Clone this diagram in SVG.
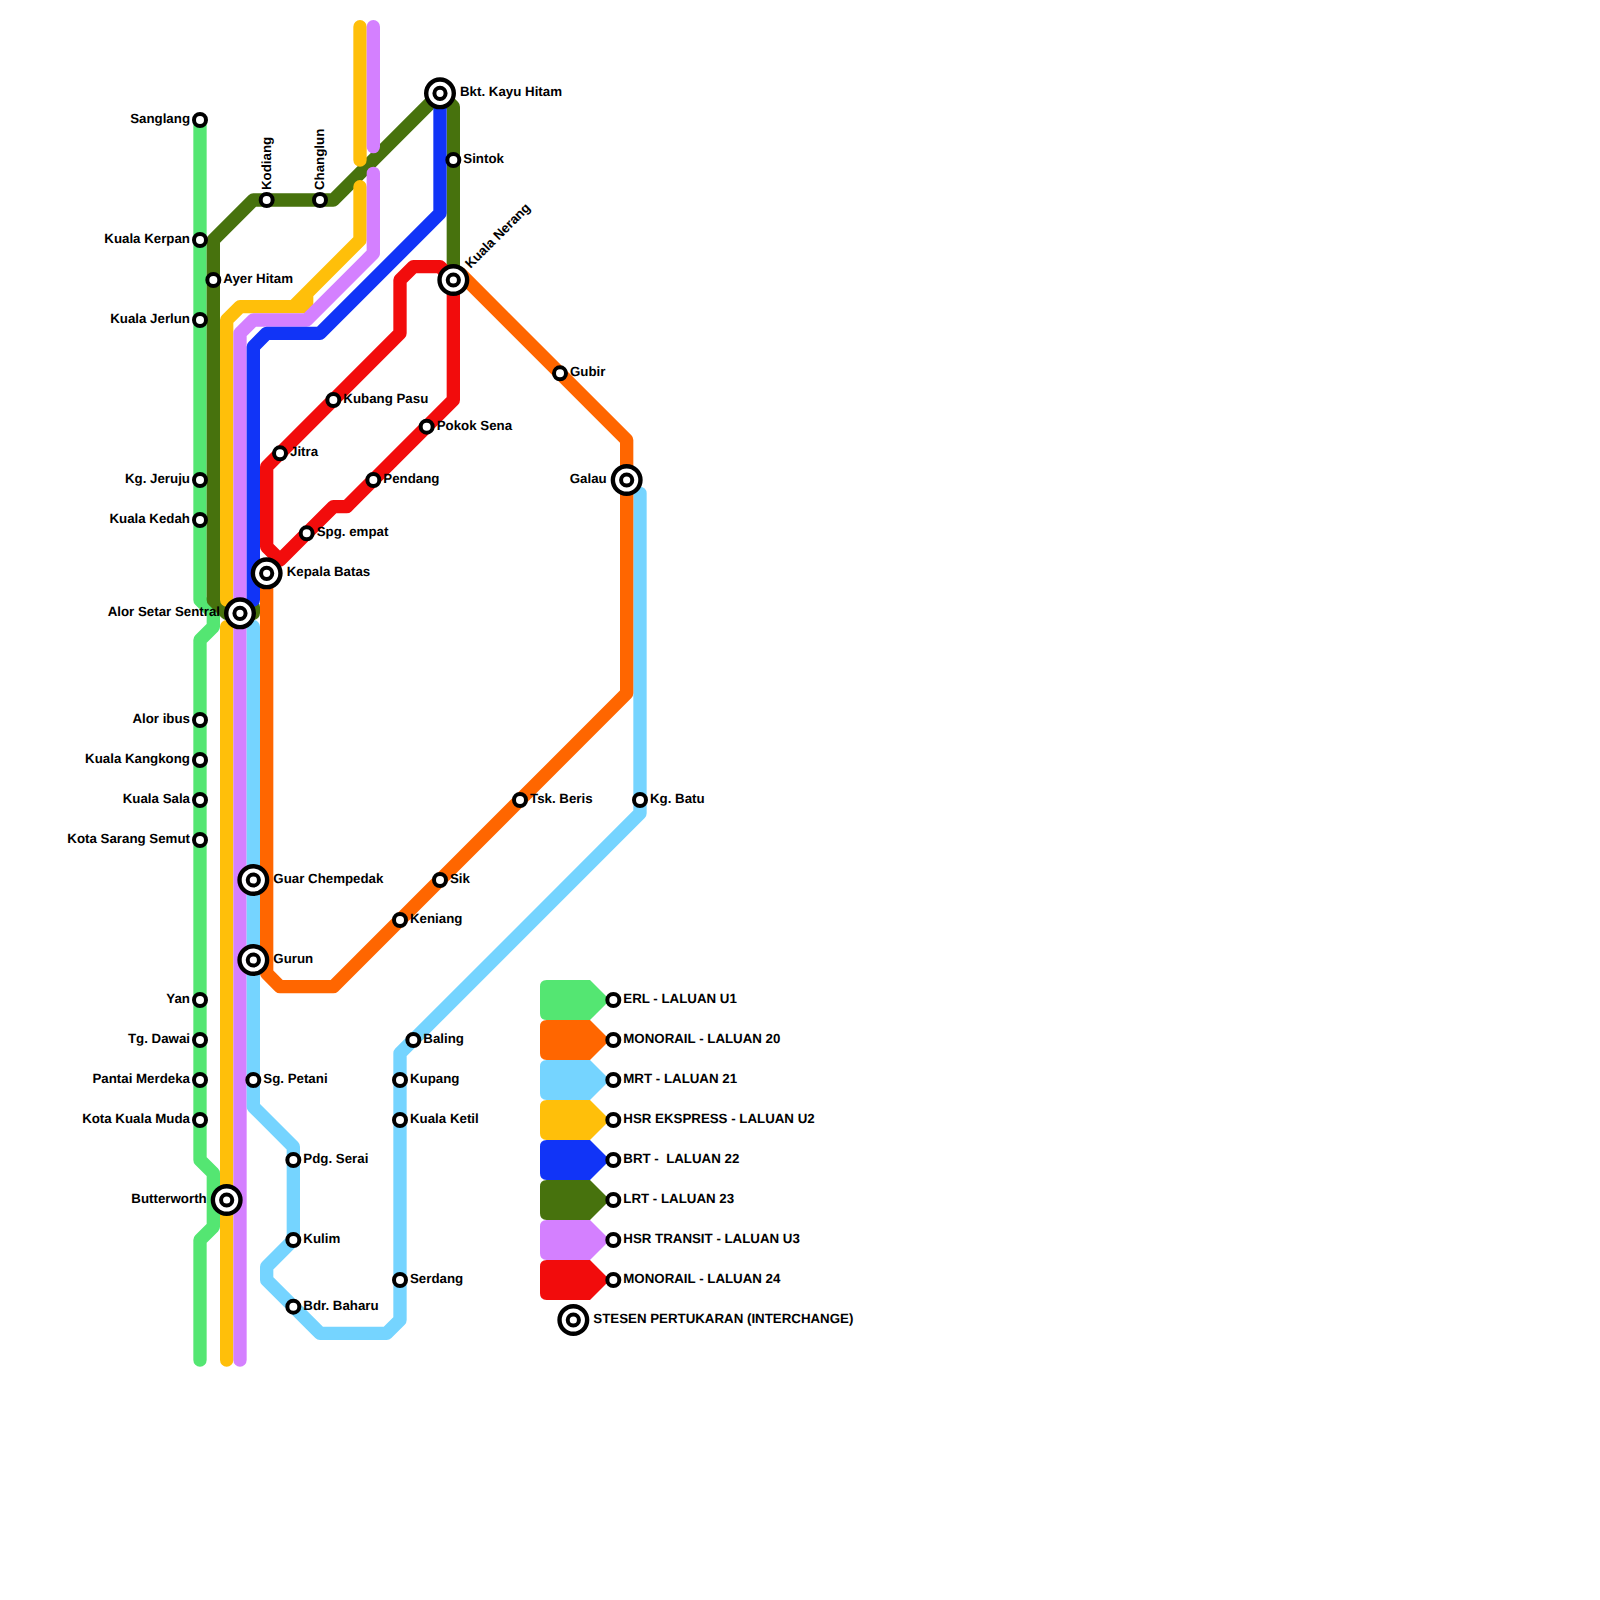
<svg xmlns="http://www.w3.org/2000/svg" width="1600" height="1600" viewBox="0 0 1600 1600">
<style>
.l{fill:none;stroke-width:13.33;stroke-linecap:round;stroke-linejoin:round}
.erl{stroke:#54e672}.lrt{stroke:#47720d}.hsr{stroke:#ffbf0a}.tra{stroke:#d480ff}.brt{stroke:#1134f7}.mrt{stroke:#75d4ff}.mon{stroke:#ff6600}.red{stroke:#f20c0c}
.s{fill:#fff;stroke:#000;stroke-width:4}
.i{fill:#fff;stroke:#000;stroke-width:4.4}
text{font-family:"Liberation Sans",Arial,sans-serif;font-weight:700;font-size:13.3px;fill:#000;text-rendering:geometricPrecision}
.e{text-anchor:end}
</style>
<rect width="1600" height="1600" fill="#fff"/>
<g id="connectors">
<path class="l erl" d="M200 120V600L213.33 613.33V626.67L200 640V1160L213.33 1173.33V1226.67L200 1240V1360"/>
<path class="l lrt" d="M440 93.33L333.33 200H253.33L213.33 240V600L226.67 613.33H253.33V606.67M440 93.33L453.33 106.67V280"/>
<path class="l hsr" d="M360 26.67V160M360 186.67V240L293.33 306.67H240L226.67 320V600M226.67 626.67V1360M306.67 293.33V306.67H293.33"/>
<path class="l tra" d="M373.33 26.67V146.67M373.33 173.33V253.33L306.67 320H253.33L240 333.33V1360"/>
<path class="l brt" d="M440 93.33V213.33L320 333.33H266.67L253.33 346.67V600"/>
<path class="l mrt" d="M253.33 626.67V1106.67L293.33 1146.67V1240L266.67 1266.67V1280L320 1333.33H386.67L400 1320V1053.33L640 813.33V493.33"/>
<path class="l mon" d="M266.67 573.33V973.33L280 986.67H333.33L626.67 693.33V440L460 273.33"/>
<path class="l red" d="M453.33 280L440 266.67H413.33L400 280V333.33L266.67 466.67V546.67L280 560L333.33 506.67H346.67L453.33 400V280"/>
</g>
<g id="legend-swatches">
<path id="sw1" fill="#54e672" d="M546.67 980H590L606 996L613.33 1000L606 1004L590 1020H546.67Q540 1020 540 1013.33V986.67Q540 980 546.67 980Z"/>
<path id="sw2" fill="#ff6600" d="M546.67 1020H590L606 1036L613.33 1040L606 1044L590 1060H546.67Q540 1060 540 1053.33V1026.67Q540 1020 546.67 1020Z"/>
<path id="sw3" fill="#75d4ff" d="M546.67 1060H590L606 1076L613.33 1080L606 1084L590 1100H546.67Q540 1100 540 1093.33V1066.67Q540 1060 546.67 1060Z"/>
<path id="sw4" fill="#ffbf0a" d="M546.67 1100H590L606 1116L613.33 1120L606 1124L590 1140H546.67Q540 1140 540 1133.33V1106.67Q540 1100 546.67 1100Z"/>
<path id="sw5" fill="#1134f7" d="M546.67 1140H590L606 1156L613.33 1160L606 1164L590 1180H546.67Q540 1180 540 1173.33V1146.67Q540 1140 546.67 1140Z"/>
<path id="sw6" fill="#47720d" d="M546.67 1180H590L606 1196L613.33 1200L606 1204L590 1220H546.67Q540 1220 540 1213.33V1186.67Q540 1180 546.67 1180Z"/>
<path id="sw7" fill="#d480ff" d="M546.67 1220H590L606 1236L613.33 1240L606 1244L590 1260H546.67Q540 1260 540 1253.33V1226.67Q540 1220 546.67 1220Z"/>
<path id="sw8" fill="#f20c0c" d="M546.67 1260H590L606 1276L613.33 1280L606 1284L590 1300H546.67Q540 1300 540 1293.33V1266.67Q540 1260 546.67 1260Z"/>
</g>
<defs>
<g id="st"><circle class="s" r="6"/></g>
<g id="ix"><circle class="i" r="13.8"/><circle class="s" r="5.6"/></g>
</defs>
<g id="stations">
<g id="n1"><use href="#st" x="200" y="120"/><text class="e" x="190" y="123">Sanglang</text></g>
<g id="n2"><use href="#st" x="200" y="240"/><text class="e" x="190" y="243">Kuala Kerpan</text></g>
<g id="n3"><use href="#st" x="200" y="320"/><text class="e" x="190" y="323">Kuala Jerlun</text></g>
<g id="n4"><use href="#st" x="200" y="480"/><text class="e" x="190" y="483">Kg. Jeruju</text></g>
<g id="n5"><use href="#st" x="200" y="520"/><text class="e" x="190" y="523">Kuala Kedah</text></g>
<g id="n6"><use href="#st" x="200" y="720"/><text class="e" x="190" y="723">Alor ibus</text></g>
<g id="n7"><use href="#st" x="200" y="760"/><text class="e" x="190" y="763">Kuala Kangkong</text></g>
<g id="n8"><use href="#st" x="200" y="800"/><text class="e" x="190" y="803">Kuala Sala</text></g>
<g id="n9"><use href="#st" x="200" y="840"/><text class="e" x="190" y="843">Kota Sarang Semut</text></g>
<g id="n10"><use href="#st" x="200" y="1000"/><text class="e" x="190" y="1003">Yan</text></g>
<g id="n11"><use href="#st" x="200" y="1040"/><text class="e" x="190" y="1043">Tg. Dawai</text></g>
<g id="n12"><use href="#st" x="200" y="1080"/><text class="e" x="190" y="1083">Pantai Merdeka</text></g>
<g id="n13"><use href="#st" x="200" y="1120"/><text class="e" x="190" y="1123">Kota Kuala Muda</text></g>
<g id="n14"><use href="#st" x="213.33" y="280"/><text x="223.3" y="283">Ayer Hitam</text></g>
<g id="n15"><use href="#st" x="266.67" y="200"/><text transform="translate(271 190) rotate(-90)">Kodiang</text></g>
<g id="n16"><use href="#st" x="320" y="200"/><text transform="translate(324 190) rotate(-90)">Changlun</text></g>
<g id="n17"><use href="#st" x="453.33" y="160"/><text x="463.3" y="163">Sintok</text></g>
<g id="n18"><use href="#st" x="333.33" y="400"/><text x="343.3" y="403">Kubang Pasu</text></g>
<g id="n19"><use href="#st" x="280" y="453.33"/><text x="290" y="456.3">Jitra</text></g>
<g id="n20"><use href="#st" x="426.67" y="426.67"/><text x="436.7" y="429.7">Pokok Sena</text></g>
<g id="n21"><use href="#st" x="373.33" y="480"/><text x="383.3" y="483">Pendang</text></g>
<g id="n22"><use href="#st" x="306.67" y="533.33"/><text x="316.7" y="536.3">Spg. empat</text></g>
<g id="n23"><use href="#st" x="560" y="373.33"/><text x="570" y="376.3">Gubir</text></g>
<g id="n24"><use href="#st" x="520" y="800"/><text x="530" y="803">Tsk. Beris</text></g>
<g id="n25"><use href="#st" x="640" y="800"/><text x="650" y="803">Kg. Batu</text></g>
<g id="n26"><use href="#st" x="440" y="880"/><text x="450" y="883">Sik</text></g>
<g id="n27"><use href="#st" x="400" y="920"/><text x="410" y="923">Keniang</text></g>
<g id="n28"><use href="#st" x="413.33" y="1040"/><text x="423.3" y="1043">Baling</text></g>
<g id="n29"><use href="#st" x="400" y="1080"/><text x="410" y="1083">Kupang</text></g>
<g id="n30"><use href="#st" x="400" y="1120"/><text x="410" y="1123">Kuala Ketil</text></g>
<g id="n31"><use href="#st" x="400" y="1280"/><text x="410" y="1283">Serdang</text></g>
<g id="n32"><use href="#st" x="253.33" y="1080"/><text x="263.3" y="1083">Sg. Petani</text></g>
<g id="n33"><use href="#st" x="293.33" y="1160"/><text x="303.3" y="1163">Pdg. Serai</text></g>
<g id="n34"><use href="#st" x="293.33" y="1240"/><text x="303.3" y="1243">Kulim</text></g>
<g id="n35"><use href="#st" x="293.33" y="1306.67"/><text x="303.3" y="1309.7">Bdr. Baharu</text></g>
<g id="n36"><use href="#ix" x="440" y="93.33"/><text x="460" y="96.3">Bkt. Kayu Hitam</text></g>
<g id="n37"><use href="#ix" x="453.33" y="280"/><text transform="translate(470.5 269) rotate(-45)">Kuala Nerang</text></g>
<g id="n38"><use href="#ix" x="266.67" y="573.33"/><text x="286.7" y="576.3">Kepala Batas</text></g>
<g id="n39"><use href="#ix" x="240" y="613.33"/><text class="e" x="220" y="616.3">Alor Setar Sentral</text></g>
<g id="n40"><use href="#ix" x="253.33" y="880"/><text x="273.3" y="883">Guar Chempedak</text></g>
<g id="n41"><use href="#ix" x="253.33" y="960"/><text x="273.3" y="963">Gurun</text></g>
<g id="n42"><use href="#ix" x="626.67" y="480"/><text class="e" x="606.7" y="483">Galau</text></g>
<g id="n43"><use href="#ix" x="226.67" y="1200"/><text class="e" x="206.7" y="1203">Butterworth</text></g>
</g>
<g id="legend">
<g id="k1"><use href="#st" x="613.33" y="1000"/><text x="623.3" y="1003">ERL - LALUAN U1</text></g>
<g id="k2"><use href="#st" x="613.33" y="1040"/><text x="623.3" y="1043">MONORAIL - LALUAN 20</text></g>
<g id="k3"><use href="#st" x="613.33" y="1080"/><text x="623.3" y="1083">MRT - LALUAN 21</text></g>
<g id="k4"><use href="#st" x="613.33" y="1120"/><text x="623.3" y="1123">HSR EKSPRESS - LALUAN U2</text></g>
<g id="k5"><use href="#st" x="613.33" y="1160"/><text x="623.3" y="1163" xml:space="preserve">BRT -  LALUAN 22</text></g>
<g id="k6"><use href="#st" x="613.33" y="1200"/><text x="623.3" y="1203">LRT - LALUAN 23</text></g>
<g id="k7"><use href="#st" x="613.33" y="1240"/><text x="623.3" y="1243">HSR TRANSIT - LALUAN U3</text></g>
<g id="k8"><use href="#st" x="613.33" y="1280"/><text x="623.3" y="1283">MONORAIL - LALUAN 24</text></g>
<g id="k9"><use href="#ix" x="573.33" y="1320"/><text x="593.3" y="1323">STESEN PERTUKARAN (INTERCHANGE)</text></g>
</g>
</svg>
